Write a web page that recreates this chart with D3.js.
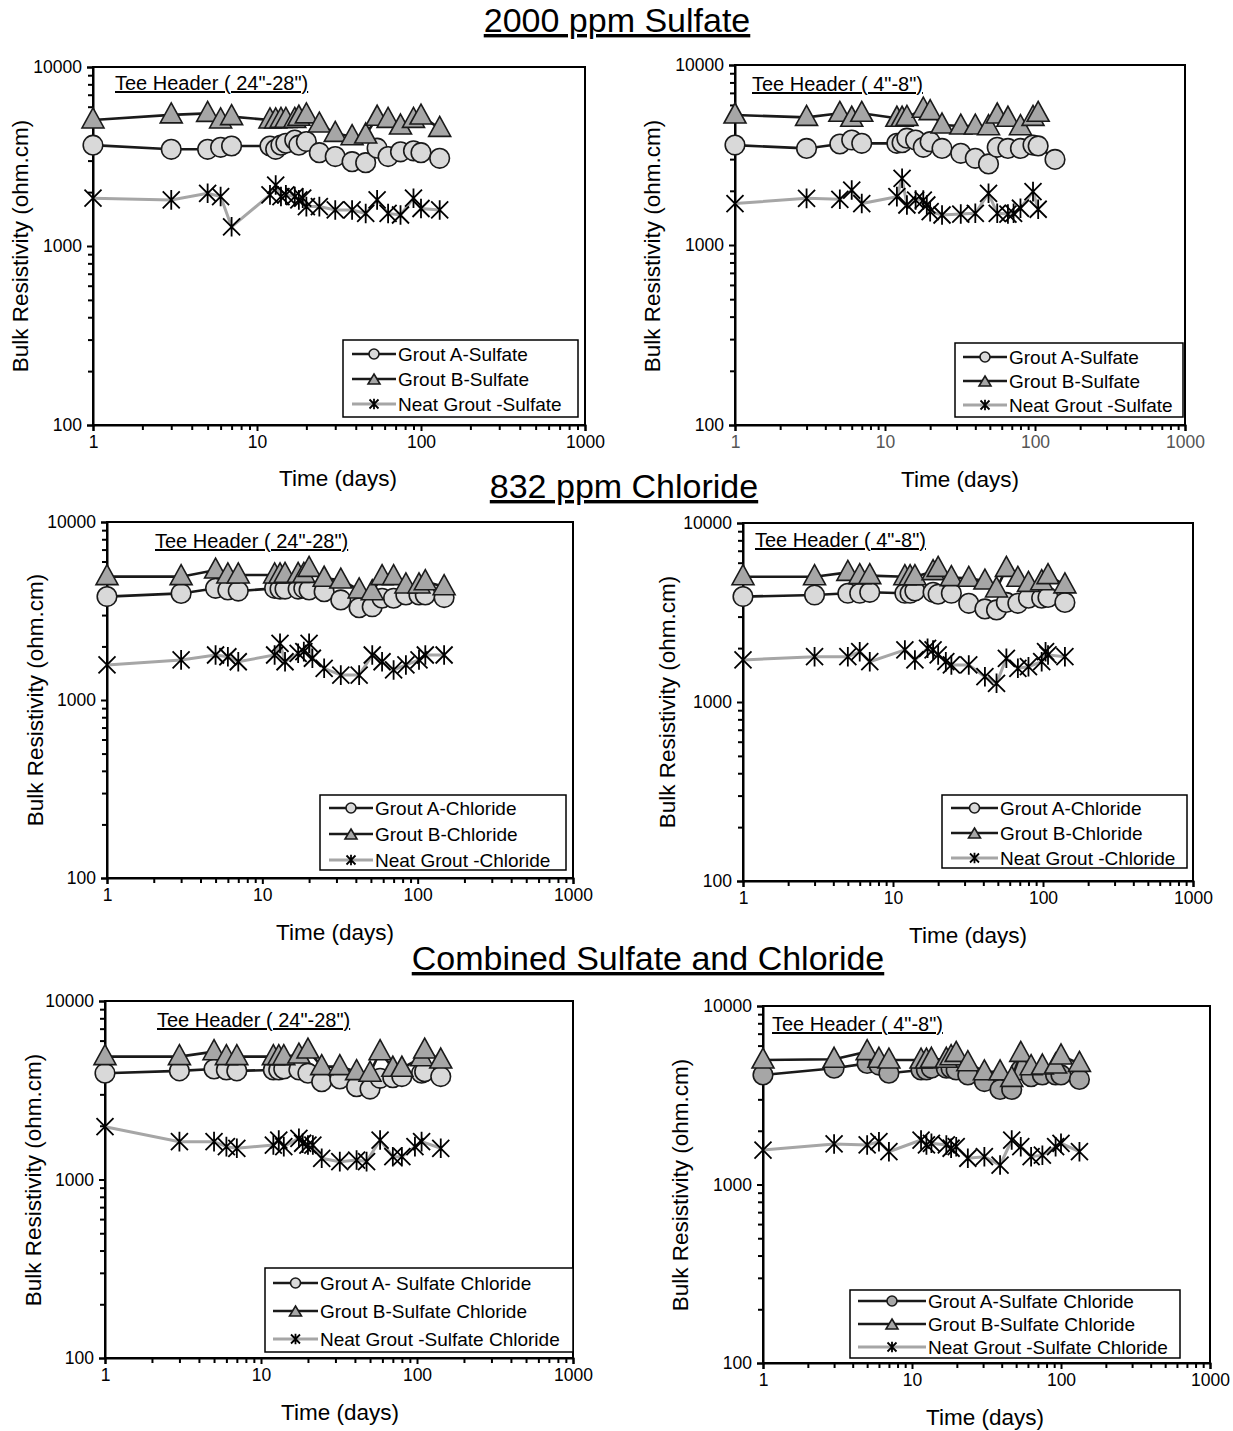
<!DOCTYPE html>
<html>
<head>
<meta charset="utf-8">
<script src="https://cdn.jsdelivr.net/npm/d3@7"></script>
<style>
  html, body { margin: 0; padding: 0; background: #fff; }
  svg { display: block; font-family: "Liberation Sans", Arial, sans-serif; }
</style>
</head>
<body>
<svg id="chart" width="1233" height="1431"></svg>
<script>
// ---------------- DATA ----------------
const xTickValues = [1, 10, 100, 1000];
const yTickValues = [100, 1000, 10000];

const sectionTitles = ["2000 ppm Sulfate", "832 ppm Chloride", "Combined Sulfate and Chloride"];
const xAxisTitle = "Time (days)";
const yAxisTitle = "Bulk Resistivity (ohm.cm)";

// Panel 1: 2000 ppm Sulfate, Tee Header (24"-28")
const p1Days   = [1, 3, 5, 6, 7, 12, 13, 14, 15, 17, 18, 19, 20, 24, 30, 38, 46, 54, 63, 75, 90, 100, 130];
const p1GroutA = [3660, 3470, 3470, 3560, 3620, 3620, 3470, 3660, 3750, 3910, 3660, null, 3830, 3320, 3160, 2960, 2920, 3520, 3160, 3360, 3400, 3320, 3090];
const p1GroutB = [5060, 5400, 5510, 5060, 5280, 5060, 5060, 5100, 5100, 5100, 5240, null, 5400, 4800, 4260, 4080, 4170, 5240, 5100, 4680, 5100, 5320, 4540];
const p1Neat   = [1850, 1810, 1970, 1890, 1280, 1930, 2190, 1890, 1930, 1890, 1810, 1850, 1660, 1660, 1590, 1590, 1520, 1810, 1520, 1490, 1850, 1620, 1590];

// Panel 2: 2000 ppm Sulfate, Tee Header (4"-8")
const p2Days   = [1, 3, 5, 6, 7, 12, 13, 14, 16, 18, 19, 20, 24, 32, 40, 49, 56, 66, 72, 80, 97, 105, 136];
const p2GroutA = [3590, 3440, 3640, 3830, 3670, 3670, 3700, 3920, 3830, 3490, null, 3750, 3440, 3230, 3030, 2820, 3490, 3440, null, 3440, 3590, 3550, 2990];
const p2GroutB = [5275, 5120, 5390, 5060, 5390, 5060, 5060, 5120, null, 5680, null, 5510, 4640, 4580, 4580, 4540, 5275, 5060, null, 4540, 5120, 5390, null];
const p2Neat   = [1700, 1816, 1795, 2020, 1700, 1857, 2346, 1668, 1778, 1778, 1668, 1531, 1468, 1486, 1500, 1938, 1500, 1486, 1500, 1600, 1980, 1580, null];

// Panel 3: 832 ppm Chloride, Tee Header (24"-28")
const p3Days   = [1, 3, 5, 6, 7, 12, 13, 14, 17, 18.5, 20, 21, 25, 32, 42, 51, 59, 70, 84, 102, 112, 148];
const p3GroutA = [3810, 3970, 4240, 4150, 4090, 4240, 4200, 4200, 4200, 4240, 4150, null, 4060, 3650, 3300, 3340, 3730, 3730, 3890, 3890, 3890, 3760];
const p3GroutB = [4930, 4930, 5370, 5040, 5040, 5040, 5040, 5080, 5080, 5080, 5490, null, 4830, 4720, 4150, 4060, 4930, 4930, 4430, 4430, 4620, 4330];
const p3Neat   = [1574, 1680, 1790, 1750, 1640, 1790, 2080, 1640, 1830, 1870, 2080, 1716, 1507, 1380, 1380, 1790, 1640, 1475, 1574, 1680, 1790, 1790];

// Panel 4: 832 ppm Chloride, Tee Header (4"-8")
const p4Days   = [1, 3, 5, 6, 7, 12, 13, 14, 17, 18.5, 20, 22.5, 24.5, 32, 41, 49, 57, 68, 80, 98, 104, 108, 140];
const p4GroutA = [3880, 3960, 4050, 4050, 4100, 4050, 4050, 4170, null, 4100, 4000, null, 4050, 3560, 3310, 3270, 3600, 3560, 3800, 3800, null, 3840, 3600];
const p4GroutB = [5010, 5010, 5300, 5080, 5080, 5010, 5010, 5010, null, 5350, 5580, null, 4950, 4910, 4740, 4280, 5580, 4910, 4600, 4700, null, 5080, 4510];
const p4Neat   = [1718, 1792, 1792, 1910, 1680, 1954, null, 1718, 1995, 1954, 1832, 1680, 1610, 1610, 1385, 1272, 1755, 1543, 1575, 1680, 1910, 1832, 1792];

// Panel 5: Combined, Tee Header (24"-28")
const p5Days   = [1, 3, 5, 6, 7, 12, 13, 14, 17.5, 18.5, 20, 21.5, 24.5, 32, 41, 47.5, 50, 58, 70, 80, 97, 107, 112, 142];
const p5GroutA = [3940, 4060, 4160, 4110, 4060, 4110, 4110, 4160, 4110, null, 3940, null, 3530, 3660, 3310, null, 3210, 3690, 3720, 3770, null, 3940, 4020, 3770];
const p5GroutB = [4880, 4880, 5200, 4880, 4880, 4880, 4880, 4880, 4980, null, 5310, null, 4290, 4290, 4020, null, 3940, 5200, 4200, 4200, null, 4810, 5310, 4670];
const p5Neat   = [1977, 1630, 1630, 1528, 1496, 1560, 1664, 1528, 1702, 1596, 1560, 1560, 1315, 1259, 1285, 1259, null, 1664, 1342, 1342, 1528, 1630, null, 1496];

// Panel 6: Combined, Tee Header (4"-8")
const p6Days   = [1, 3, 5, 6, 7, 11.5, 12.5, 13.5, 17, 18.3, 19.8, 23.7, 30.6, 39, 46.7, 53.7, 63, 75, 92, 100, 133];
const p6GroutA = [4110, 4480, 4770, 4670, 4200, 4380, 4380, 4480, 4480, 4480, 4380, 4110, 3770, 3410, 3410, 4380, 4020, 4110, 4110, 4110, 3880];
const p6GroutB = [4980, 5030, 5550, 5030, 4980, 4980, 4980, 5030, 5030, 5200, 5430, 4810, 4280, 4280, 3930, 5430, 4570, 4610, 4670, 5250, 4770];
const p6Neat   = [1560, 1687, 1665, 1738, 1527, 1775, 1665, 1702, 1665, 1596, 1629, 1403, 1432, 1285, 1775, 1629, 1432, 1460, 1629, 1702, 1527];

const headers = ['Tee Header ( 24"-28")', 'Tee Header ( 4"-8")'];
const legendSulfate  = ["Grout A-Sulfate", "Grout B-Sulfate", "Neat Grout -Sulfate"];
const legendChloride = ["Grout A-Chloride", "Grout B-Chloride", "Neat Grout -Chloride"];
const legendCombL    = ["Grout A- Sulfate Chloride", "Grout B-Sulfate Chloride", "Neat Grout -Sulfate Chloride"];
const legendCombR    = ["Grout A-Sulfate Chloride", "Grout B-Sulfate Chloride", "Neat Grout -Sulfate Chloride"];

// ---------------- LAYOUT / STYLE ----------------
const panels = [
  {days: p1Days, a: p1GroutA, b: p1GroutB, n: p1Neat, header: headers[0], legend: legendSulfate,
   box: {x0: 93, x1: 585, y0: 67, y1: 425}, hdr: [115, 90],
   leg: {x: 343, y: 340, w: 235, h: 77, top: 14, dy: 25, fs: 19, lx: 9, len: 44},
   xt: [338, 486], yt: [28, 246], aFill: "#d9d9d9", xTickColor: "#000"},
  {days: p2Days, a: p2GroutA, b: p2GroutB, n: p2Neat, header: headers[1], legend: legendSulfate,
   box: {x0: 735, x1: 1185, y0: 65, y1: 425}, hdr: [752, 91],
   leg: {x: 955, y: 343, w: 228, h: 74, top: 14, dy: 24, fs: 19, lx: 8, len: 44},
   xt: [960, 487], yt: [660, 246], aFill: "#d9d9d9", xTickColor: "#555"},
  {days: p3Days, a: p3GroutA, b: p3GroutB, n: p3Neat, header: headers[0], legend: legendChloride,
   box: {x0: 107, x1: 573, y0: 522, y1: 878}, hdr: [155, 548],
   leg: {x: 320, y: 795, w: 246, h: 75, top: 13, dy: 26, fs: 19, lx: 9, len: 44},
   xt: [335, 940], yt: [43, 700], aFill: "#d9d9d9", xTickColor: "#000"},
  {days: p4Days, a: p4GroutA, b: p4GroutB, n: p4Neat, header: headers[1], legend: legendChloride,
   box: {x0: 743, x1: 1193, y0: 523, y1: 881}, hdr: [755, 547],
   leg: {x: 942, y: 795, w: 245, h: 73, top: 13, dy: 25, fs: 19, lx: 9, len: 47},
   xt: [968, 943], yt: [675, 702], aFill: "#d9d9d9", xTickColor: "#000"},
  {days: p5Days, a: p5GroutA, b: p5GroutB, n: p5Neat, header: headers[0], legend: legendCombL,
   box: {x0: 105, x1: 573, y0: 1001, y1: 1358}, hdr: [157, 1027],
   leg: {x: 265, y: 1268, w: 308, h: 84, top: 15, dy: 28, fs: 19, lx: 8, len: 45},
   xt: [340, 1420], yt: [41, 1180], aFill: "#d9d9d9", xTickColor: "#000"},
  {days: p6Days, a: p6GroutA, b: p6GroutB, n: p6Neat, header: headers[1], legend: legendCombR,
   box: {x0: 763, x1: 1210, y0: 1006, y1: 1363}, hdr: [772, 1031],
   leg: {x: 850, y: 1290, w: 330, h: 68, top: 11, dy: 23, fs: 19, lx: 8, len: 68},
   xt: [985, 1425], yt: [688, 1185], aFill: "#a6a6a6", xTickColor: "#000"}
];

const sectionPos = [[617, 32], [624, 498], [648, 970]];

const bFill = "#a6a6a6";
const neatColor = "#a6a6a6";

const svg = d3.select("#chart");

sectionTitles.forEach((t, i) => {
  svg.append("text")
    .attr("x", sectionPos[i][0]).attr("y", sectionPos[i][1])
    .attr("text-anchor", "middle")
    .attr("font-size", 34)
    .attr("fill", "#000")
    .attr("text-decoration", "underline")
    .text(t);
});

function asteriskPath(s) {
  return `M${-s},${-s}L${s},${s}M${-s},${s}L${s},${-s}M0,${-s * 1.15}L0,${s * 1.15}`;
}
function trianglePath(w, h) {
  return `M0,${-h * 0.6}L${w / 2},${h * 0.4}L${-w / 2},${h * 0.4}Z`;
}

function drawMarkers(g, kind, pts, opts) {
  if (kind === "circle") {
    g.selectAll(null).data(pts).enter().append("circle")
      .attr("cx", d => d.x).attr("cy", d => d.y).attr("r", opts.r)
      .attr("fill", opts.fill).attr("stroke", "#1a1a1a").attr("stroke-width", 1.6);
  } else if (kind === "triangle") {
    g.selectAll(null).data(pts).enter().append("path")
      .attr("transform", d => `translate(${d.x},${d.y})`)
      .attr("d", trianglePath(opts.w, opts.h))
      .attr("fill", opts.fill).attr("stroke", "#1a1a1a").attr("stroke-width", 1.6)
      .attr("stroke-linejoin", "miter");
  } else {
    g.selectAll(null).data(pts).enter().append("path")
      .attr("transform", d => `translate(${d.x},${d.y})`)
      .attr("d", asteriskPath(opts.s))
      .attr("fill", "none").attr("stroke", "#000").attr("stroke-width", 1.8);
  }
}

panels.forEach(p => {
  const x = d3.scaleLog().domain([1, 1000]).range([p.box.x0, p.box.x1]);
  const y = d3.scaleLog().domain([100, 10000]).range([p.box.y1, p.box.y0]);
  const g = svg.append("g");

  const xMinor = [], yMinor = [];
  [1, 10, 100].forEach(dec => { for (let k = 2; k <= 9; k++) xMinor.push(dec * k); });
  [100, 1000].forEach(dec => { for (let k = 2; k <= 9; k++) yMinor.push(dec * k); });

  g.append("rect")
    .attr("x", p.box.x0).attr("y", p.box.y0)
    .attr("width", p.box.x1 - p.box.x0).attr("height", p.box.y1 - p.box.y0)
    .attr("fill", "none").attr("stroke", "#000").attr("stroke-width", 2);

  const xAx = g.append("g").attr("transform", `translate(0,${p.box.y1})`)
    .call(d3.axisBottom(x).tickValues(xTickValues).tickSize(6).tickPadding(5).tickFormat(d3.format("d")));
  xAx.select(".domain").attr("stroke", "#000").attr("stroke-width", 2);
  xAx.selectAll(".tick line").attr("stroke", "#000").attr("stroke-width", 2);
  xAx.selectAll(".tick text").attr("font-size", 17.5).attr("fill", p.xTickColor)
    .attr("font-family", "Liberation Sans, Arial, sans-serif");
  const xAxm = g.append("g").attr("transform", `translate(0,${p.box.y1})`)
    .call(d3.axisBottom(x).tickValues(xMinor).tickSize(5).tickFormat(""));
  xAxm.select(".domain").remove();
  xAxm.selectAll(".tick line").attr("stroke", "#000").attr("stroke-width", 2);

  const yAx = g.append("g").attr("transform", `translate(${p.box.x0},0)`)
    .call(d3.axisLeft(y).tickValues(yTickValues).tickSize(6).tickPadding(5).tickFormat(d3.format("d")));
  yAx.select(".domain").attr("stroke", "#000").attr("stroke-width", 2);
  yAx.selectAll(".tick line").attr("stroke", "#000").attr("stroke-width", 2);
  yAx.selectAll(".tick text").attr("font-size", 17.5).attr("fill", "#000")
    .attr("font-family", "Liberation Sans, Arial, sans-serif");
  const yAxm = g.append("g").attr("transform", `translate(${p.box.x0},0)`)
    .call(d3.axisLeft(y).tickValues(yMinor).tickSize(5).tickFormat(""));
  yAxm.select(".domain").remove();
  yAxm.selectAll(".tick line").attr("stroke", "#000").attr("stroke-width", 2);

  g.append("text").attr("x", p.xt[0]).attr("y", p.xt[1]).attr("text-anchor", "middle")
    .attr("font-size", 22.5).text(xAxisTitle);
  g.append("text").attr("transform", `translate(${p.yt[0]},${p.yt[1]}) rotate(-90)`)
    .attr("text-anchor", "middle").attr("font-size", 22.5).text(yAxisTitle);

  g.append("text").attr("x", p.hdr[0]).attr("y", p.hdr[1]).attr("font-size", 20)
    .attr("text-decoration", "underline").text(p.header);

  const toPts = vals => p.days.map((d, i) => ({d, v: vals[i]}))
    .filter(o => o.v != null).map(o => ({x: x(o.d), y: y(o.v)}));
  const line = d3.line().x(d => d.x).y(d => d.y);
  const plot = g.append("g");

  const ptsA = toPts(p.a), ptsB = toPts(p.b), ptsN = toPts(p.n);
  plot.append("path").attr("d", line(ptsA)).attr("fill", "none").attr("stroke", "#1a1a1a").attr("stroke-width", 2.6);
  drawMarkers(plot, "circle", ptsA, {r: 9.8, fill: p.aFill});
  plot.append("path").attr("d", line(ptsB)).attr("fill", "none").attr("stroke", "#1a1a1a").attr("stroke-width", 2.6);
  drawMarkers(plot, "triangle", ptsB, {w: 22, h: 20, fill: bFill});
  plot.append("path").attr("d", line(ptsN)).attr("fill", "none").attr("stroke", neatColor).attr("stroke-width", 3);
  drawMarkers(plot, "asterisk", ptsN, {s: 8.5});

  const L = p.leg;
  const lg = g.append("g");
  lg.append("rect").attr("x", L.x).attr("y", L.y).attr("width", L.w).attr("height", L.h)
    .attr("fill", "#fff").attr("stroke", "#000").attr("stroke-width", 1.5);
  p.legend.forEach((name, i) => {
    const cy = L.y + L.top + i * L.dy;
    const lx0 = L.x + L.lx, lx1 = lx0 + L.len, mx = (lx0 + lx1) / 2;
    lg.append("line").attr("x1", lx0).attr("x2", lx1).attr("y1", cy).attr("y2", cy)
      .attr("stroke", i === 2 ? neatColor : "#1a1a1a").attr("stroke-width", i === 2 ? 3 : 2.6);
    if (i === 0) drawMarkers(lg, "circle", [{x: mx, y: cy}], {r: 5, fill: p.aFill});
    if (i === 1) drawMarkers(lg, "triangle", [{x: mx, y: cy + 1}], {w: 12, h: 10, fill: bFill});
    if (i === 2) drawMarkers(lg, "asterisk", [{x: mx, y: cy}], {s: 4.5});
    lg.append("text").attr("x", lx1 + 2).attr("y", cy + 6.5).attr("font-size", L.fs).text(name);
  });
});
</script>
</body>
</html>
